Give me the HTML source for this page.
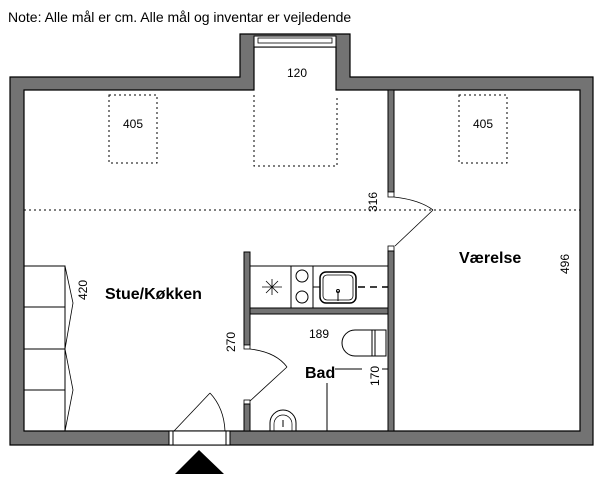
<!DOCTYPE html>
<html><head><meta charset="utf-8"><style>
html,body{margin:0;padding:0;background:#fff;width:600px;height:479px;overflow:hidden}
svg{display:block}
text{font-family:"Liberation Sans",sans-serif;fill:#000}
</style></head><body>
<svg width="600" height="479" viewBox="0 0 600 479" xmlns="http://www.w3.org/2000/svg">
<text x="8" y="22" font-size="14">Note: Alle mål er cm. Alle mål og inventar er vejledende</text>
<path d="M10,77 H240 V34 H350 V77 H593 V445 H10 Z M24,90 V431 H580 V90 H336 V47 H254 V90 Z" fill="#737373" fill-rule="evenodd" stroke="#000" stroke-width="1.2"/>
<rect x="254" y="36" width="82" height="11" fill="#fff" stroke="#000" stroke-width="1"/>
<rect x="258" y="38" width="74" height="5" fill="#fff" stroke="#000" stroke-width="0.8"/>
<rect x="169" y="431" width="61" height="14" fill="#fff" stroke="#000" stroke-width="1"/>
<line x1="173" y1="431" x2="173" y2="445" stroke="#000"/>
<line x1="226" y1="431" x2="226" y2="445" stroke="#000"/>
<line x1="174" y1="431" x2="210" y2="393" stroke="#000" stroke-width="0.8"/>
<path d="M210,393 Q224,408 225,431" fill="none" stroke="#000" stroke-width="0.8"/>
<polygon points="199,450 175,474 224,474" fill="#000"/>
<rect x="388" y="90" width="6" height="102" fill="#737373" stroke="#000"/>
<rect x="388" y="192" width="6" height="5" fill="#fff" stroke="#000" stroke-width="0.8"/>
<rect x="388" y="246" width="6" height="5" fill="#fff" stroke="#000" stroke-width="0.8"/>
<rect x="388" y="251" width="6" height="180" fill="#737373" stroke="#000"/>
<path d="M394,197 Q420,200 433,210" fill="none" stroke="#000" stroke-width="0.8"/>
<line x1="433" y1="210" x2="395" y2="246" stroke="#000" stroke-width="0.8"/>
<line x1="24" y1="210" x2="580" y2="210" stroke="#000" stroke-dasharray="2,3"/>
<rect x="109" y="95" width="48" height="68" fill="none" stroke="#000" stroke-dasharray="2,3"/>
<rect x="459" y="95" width="48" height="68" fill="none" stroke="#000" stroke-dasharray="2,3"/>
<path d="M254,95 V166 H337 V95" fill="none" stroke="#000" stroke-dasharray="2,3"/>
<text x="123" y="128" font-size="12">405</text>
<text x="473" y="128" font-size="12">405</text>
<text x="287" y="77" font-size="12">120</text>
<text font-size="12" transform="translate(377,212) rotate(-90)">316</text>
<text font-size="12" transform="translate(569,274) rotate(-90)">496</text>
<text font-size="12" transform="translate(87,300) rotate(-90)">420</text>
<text font-size="12" transform="translate(235,352) rotate(-90)">270</text>
<text font-size="12" transform="translate(379,386) rotate(-90)">170</text>
<text x="309" y="338" font-size="12">189</text>
<text x="105" y="299" font-size="16" font-weight="bold">Stue/Køkken</text>
<text x="459" y="263" font-size="16" font-weight="bold">Værelse</text>
<text x="305" y="378" font-size="16" font-weight="bold">Bad</text>
<rect x="244" y="252" width="6" height="93" fill="#737373" stroke="#000"/>
<rect x="244" y="345" width="6" height="4" fill="#fff" stroke="#000" stroke-width="0.8"/>
<rect x="244" y="400" width="6" height="4" fill="#fff" stroke="#000" stroke-width="0.8"/>
<rect x="244" y="404" width="6" height="27" fill="#737373" stroke="#000"/>
<path d="M250,349 Q276,352 287,367" fill="none" stroke="#000" stroke-width="0.8"/>
<line x1="287" y1="367" x2="250" y2="401" stroke="#000" stroke-width="0.8"/>
<line x1="250" y1="266" x2="388" y2="266" stroke="#000"/>
<rect x="250" y="308" width="138" height="6" fill="#737373" stroke="#000"/>
<line x1="291" y1="266" x2="291" y2="308" stroke="#000"/>
<line x1="313" y1="266" x2="313" y2="308" stroke="#000"/>
<circle cx="302" cy="276" r="6" fill="none" stroke="#000"/>
<circle cx="302" cy="297" r="6" fill="none" stroke="#000"/>
<g stroke="#000" stroke-width="0.8"><line x1="262" y1="287" x2="282" y2="287"/><line x1="272" y1="279" x2="272" y2="295"/><line x1="266" y1="281" x2="278" y2="293"/><line x1="278" y1="281" x2="266" y2="293"/></g>
<rect x="320" y="272" width="36" height="31" rx="6" fill="none" stroke="#000" stroke-width="1.5"/>
<rect x="323" y="275" width="30" height="25" rx="4" fill="none" stroke="#000" stroke-width="0.8"/>
<line x1="338" y1="291" x2="338" y2="301" stroke="#000"/>
<circle cx="338" cy="291" r="1.5" fill="none" stroke="#000"/>
<line x1="313" y1="287" x2="320" y2="287" stroke="#000"/>
<line x1="358" y1="287" x2="388" y2="287" stroke="#000" stroke-width="1.5" stroke-dasharray="7,5"/>
<path d="M386,330 H355 A13,13 0 0 0 355,356 H386 Z" fill="none" stroke="#000"/>
<line x1="372" y1="330" x2="372" y2="356" stroke="#000"/>
<line x1="375" y1="330" x2="375" y2="356" stroke="#000"/>
<line x1="335" y1="369" x2="362" y2="369" stroke="#000"/>
<line x1="382" y1="369" x2="388" y2="369" stroke="#000"/>
<line x1="327" y1="383" x2="327" y2="431" stroke="#000"/>
<path d="M270,431 V423 A13,13 0 0 1 296,423 V431" fill="none" stroke="#000"/>
<path d="M274,431 V424 A9,9 0 0 1 292,424 V431" fill="none" stroke="#000" stroke-width="0.7"/>
<line x1="283" y1="420" x2="283" y2="427" stroke="#000"/>
<g stroke="#000" fill="none">
<rect x="24" y="266" width="41" height="165"/>
<line x1="24" y1="307" x2="65" y2="307"/><line x1="24" y1="349" x2="65" y2="349"/><line x1="24" y1="390" x2="65" y2="390"/>
<polyline points="65,266 73,303 65,349 73,390 65,431" stroke-width="0.8"/>
</g>
</svg>
</body></html>
